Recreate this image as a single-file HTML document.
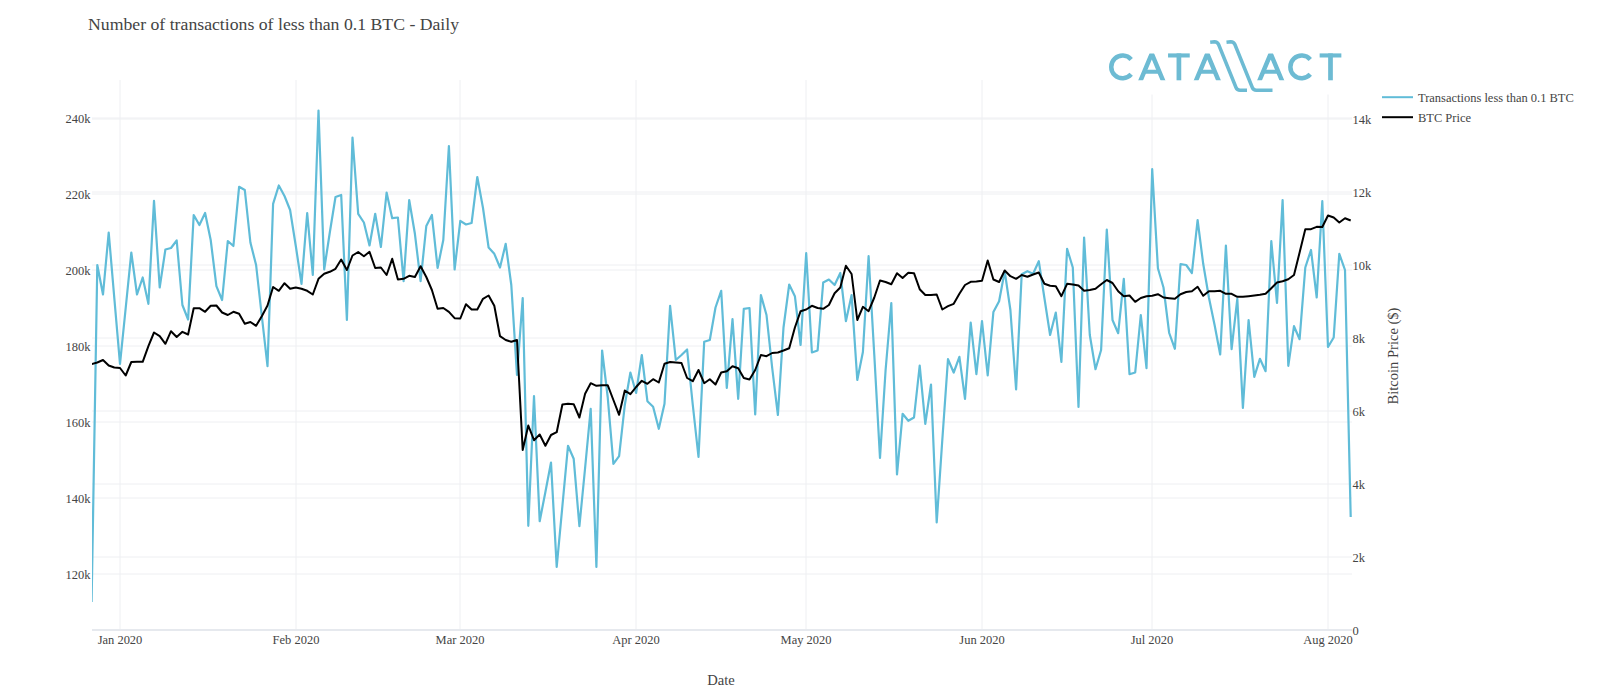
<!DOCTYPE html>
<html><head><meta charset="utf-8"><style>
html,body{margin:0;padding:0;background:#fff;}
body{width:1600px;height:692px;overflow:hidden;position:relative;font-family:"Liberation Serif",serif;}
svg{position:absolute;left:0;top:0;}
text{font-family:"Liberation Serif",serif;fill:#444;}
</style></head><body>
<svg width="1600" height="692" viewBox="0 0 1600 692">
<rect width="1600" height="692" fill="#fff"/>
<g stroke="#eeeff2" stroke-width="1" fill="none">
<line x1="120" x2="120" y1="80" y2="630"/><line x1="296" x2="296" y1="80" y2="630"/><line x1="460" x2="460" y1="80" y2="630"/><line x1="636" x2="636" y1="80" y2="630"/><line x1="806" x2="806" y1="80" y2="630"/><line x1="982" x2="982" y1="80" y2="630"/><line x1="1152" x2="1152" y1="80" y2="630"/><line x1="1328" x2="1328" y1="80" y2="630"/>
<line x1="92" x2="1352" y1="118" y2="118"/><line x1="92" x2="1352" y1="194" y2="194"/><line x1="92" x2="1352" y1="270" y2="270"/><line x1="92" x2="1352" y1="346" y2="346"/><line x1="92" x2="1352" y1="422" y2="422"/><line x1="92" x2="1352" y1="498" y2="498"/><line x1="92" x2="1352" y1="574" y2="574"/><line x1="92" x2="1352" y1="119" y2="119"/><line x1="92" x2="1352" y1="192" y2="192"/><line x1="92" x2="1352" y1="265" y2="265"/><line x1="92" x2="1352" y1="338" y2="338"/><line x1="92" x2="1352" y1="411" y2="411"/><line x1="92" x2="1352" y1="484" y2="484"/><line x1="92" x2="1352" y1="557" y2="557"/>
</g>
<line x1="92" x2="1352" y1="630" y2="630" stroke="#e6e9ee" stroke-width="2"/>
<clipPath id="pc"><rect x="92" y="80" width="1260" height="550"/></clipPath>
<g clip-path="url(#pc)">
<path d="M91.6,602.0 L97.3,265.0 L103.0,294.5 L108.7,232.5 L114.3,298.0 L120.0,363.8 L125.7,308.0 L131.3,252.5 L137.0,294.5 L142.7,277.5 L148.4,303.8 L154.0,200.8 L159.7,287.5 L165.4,249.5 L171.0,248.0 L176.7,240.5 L182.4,305.0 L188.1,319.5 L193.7,215.0 L199.4,225.0 L205.1,213.0 L210.7,240.0 L216.4,286.2 L222.1,300.0 L227.8,241.0 L233.4,246.0 L239.1,186.8 L244.8,190.0 L250.4,242.5 L256.1,265.0 L261.8,316.0 L267.5,366.2 L273.1,203.8 L278.8,185.5 L284.5,196.0 L290.1,210.0 L295.8,246.0 L301.5,283.8 L307.2,213.0 L312.8,275.0 L318.5,110.5 L324.2,269.5 L329.8,232.5 L335.5,197.0 L341.2,195.0 L346.9,320.0 L352.5,137.5 L358.2,213.8 L363.9,222.5 L369.5,245.5 L375.2,213.8 L380.9,247.0 L386.6,192.5 L392.2,218.2 L397.9,217.5 L403.6,281.2 L409.2,200.0 L414.9,233.8 L420.6,281.2 L426.3,226.0 L431.9,215.0 L437.6,268.0 L443.3,240.0 L448.9,146.0 L454.6,269.5 L460.3,220.8 L466.0,224.5 L471.6,223.0 L477.3,177.0 L483.0,208.0 L488.6,247.5 L494.3,253.8 L500.0,267.5 L505.7,243.8 L511.3,285.0 L517.0,375.0 L522.7,298.0 L528.3,525.8 L534.0,396.2 L539.7,521.2 L545.4,492.0 L551.0,462.5 L556.7,567.0 L562.4,506.0 L568.0,445.8 L573.7,458.8 L579.4,526.2 L585.1,468.0 L590.7,408.8 L596.4,567.0 L602.1,350.5 L607.7,397.0 L613.4,463.8 L619.1,456.2 L624.8,405.0 L630.4,372.5 L636.1,393.0 L641.8,355.0 L647.4,401.2 L653.1,406.8 L658.8,428.8 L664.5,403.8 L670.1,305.8 L675.8,360.0 L681.5,355.0 L687.1,349.5 L692.8,405.0 L698.5,457.0 L704.2,341.8 L709.8,340.0 L715.5,307.5 L721.2,290.8 L726.8,388.0 L732.5,319.2 L738.2,398.8 L743.8,308.8 L749.5,308.0 L755.2,414.5 L760.9,295.0 L766.5,315.0 L772.2,368.0 L777.9,415.0 L783.5,327.5 L789.2,284.5 L794.9,296.2 L800.6,345.0 L806.2,253.2 L811.9,352.5 L817.6,350.5 L823.2,282.5 L828.9,279.5 L834.6,285.0 L840.3,273.0 L845.9,321.2 L851.6,295.0 L857.3,380.0 L862.9,352.0 L868.6,256.2 L874.3,355.0 L880.0,458.0 L885.6,370.0 L891.3,303.0 L897.0,474.5 L902.6,413.8 L908.3,420.8 L914.0,417.5 L919.7,365.5 L925.3,423.8 L931.0,384.5 L936.7,522.5 L942.3,440.0 L948.0,359.2 L953.7,372.5 L959.4,356.8 L965.0,398.8 L970.7,322.5 L976.4,374.2 L982.0,321.2 L987.7,375.5 L993.4,312.0 L999.1,301.2 L1004.7,271.2 L1010.4,310.0 L1016.1,389.5 L1021.7,274.2 L1027.4,271.2 L1033.1,273.8 L1038.8,261.2 L1044.4,298.0 L1050.1,335.0 L1055.8,312.5 L1061.4,362.0 L1067.1,248.8 L1072.8,267.5 L1078.5,407.0 L1084.1,237.5 L1089.8,335.0 L1095.5,369.2 L1101.1,350.0 L1106.8,229.5 L1112.5,320.0 L1118.2,333.2 L1123.8,278.8 L1129.5,374.2 L1135.2,372.5 L1140.8,315.0 L1146.5,368.2 L1152.2,169.2 L1157.9,268.2 L1163.5,287.5 L1169.2,333.0 L1174.9,348.8 L1180.5,264.2 L1186.2,265.0 L1191.9,273.0 L1197.6,220.0 L1203.2,263.8 L1208.9,297.5 L1214.6,325.0 L1220.2,354.5 L1225.9,245.5 L1231.6,349.2 L1237.3,298.8 L1242.9,408.0 L1248.6,320.0 L1254.3,376.8 L1259.9,358.8 L1265.6,371.2 L1271.3,241.2 L1277.0,303.0 L1282.6,200.0 L1288.3,365.8 L1294.0,326.2 L1299.6,339.2 L1305.3,267.5 L1311.0,250.0 L1316.7,297.5 L1322.3,201.2 L1328.0,347.0 L1333.7,337.5 L1339.3,253.8 L1345.0,270.0 L1350.7,517.0" fill="none" stroke="#60bcd8" stroke-width="2.2" stroke-linejoin="round"/>
<path d="M91.6,364.2 L97.3,362.5 L103.0,360.0 L108.7,365.5 L114.3,367.5 L120.0,368.0 L125.7,375.5 L131.3,362.0 L137.0,361.8 L142.7,361.8 L148.4,346.2 L154.0,332.5 L159.7,336.2 L165.4,343.8 L171.0,331.2 L176.7,337.0 L182.4,331.8 L188.1,334.5 L193.7,308.2 L199.4,308.2 L205.1,311.8 L210.7,305.8 L216.4,305.5 L222.1,312.5 L227.8,315.0 L233.4,311.8 L239.1,313.8 L244.8,323.8 L250.4,322.0 L256.1,325.8 L261.8,316.2 L267.5,305.5 L273.1,287.0 L278.8,290.8 L284.5,283.2 L290.1,288.8 L295.8,287.5 L301.5,288.8 L307.2,290.8 L312.8,294.5 L318.5,278.8 L324.2,273.8 L329.8,271.8 L335.5,268.8 L341.2,259.5 L346.9,270.0 L352.5,255.5 L358.2,252.0 L363.9,256.2 L369.5,251.8 L375.2,268.0 L380.9,267.5 L386.6,275.0 L392.2,258.8 L397.9,279.5 L403.6,278.8 L409.2,275.8 L414.9,277.0 L420.6,266.2 L426.3,277.0 L431.9,290.0 L437.6,308.8 L443.3,308.0 L448.9,311.8 L454.6,318.2 L460.3,318.5 L466.0,304.2 L471.6,309.5 L477.3,309.5 L483.0,298.8 L488.6,295.5 L494.3,305.8 L500.0,336.2 L505.7,340.0 L511.3,341.8 L517.0,340.0 L522.7,450.0 L528.3,425.5 L534.0,440.2 L539.7,434.5 L545.4,445.8 L551.0,435.0 L556.7,432.2 L562.4,404.5 L568.0,403.8 L573.7,404.2 L579.4,417.5 L585.1,393.8 L590.7,383.2 L596.4,385.8 L602.1,385.2 L607.7,385.2 L613.4,400.0 L619.1,414.8 L624.8,390.5 L630.4,394.2 L636.1,387.0 L641.8,380.8 L647.4,383.8 L653.1,379.2 L658.8,382.5 L664.5,363.8 L670.1,362.0 L675.8,362.5 L681.5,363.0 L687.1,378.0 L692.8,381.2 L698.5,370.0 L704.2,383.2 L709.8,379.2 L715.5,384.5 L721.2,372.5 L726.8,371.2 L732.5,366.2 L738.2,368.2 L743.8,378.0 L749.5,379.5 L755.2,370.0 L760.9,355.0 L766.5,356.2 L772.2,353.0 L777.9,352.5 L783.5,350.5 L789.2,348.2 L794.9,327.5 L800.6,311.2 L806.2,309.5 L811.9,305.8 L817.6,308.0 L823.2,308.8 L828.9,305.0 L834.6,293.2 L840.3,287.5 L845.9,265.8 L851.6,274.0 L857.3,320.0 L862.9,306.8 L868.6,311.2 L874.3,297.5 L880.0,280.5 L885.6,282.0 L891.3,284.2 L897.0,273.2 L902.6,278.0 L908.3,272.8 L914.0,273.2 L919.7,289.2 L925.3,295.0 L931.0,295.0 L936.7,294.5 L942.3,309.5 L948.0,306.2 L953.7,303.8 L959.4,293.8 L965.0,285.0 L970.7,281.8 L976.4,281.5 L982.0,280.8 L987.7,260.5 L993.4,279.5 L999.1,282.0 L1004.7,270.5 L1010.4,276.2 L1016.1,278.8 L1021.7,275.0 L1027.4,276.8 L1033.1,274.5 L1038.8,272.5 L1044.4,283.8 L1050.1,285.8 L1055.8,286.2 L1061.4,296.2 L1067.1,283.8 L1072.8,284.5 L1078.5,285.5 L1084.1,290.8 L1089.8,290.0 L1095.5,288.8 L1101.1,284.2 L1106.8,280.0 L1112.5,283.0 L1118.2,291.2 L1123.8,296.2 L1129.5,295.5 L1135.2,301.8 L1140.8,298.0 L1146.5,296.2 L1152.2,295.8 L1157.9,294.2 L1163.5,297.5 L1169.2,298.2 L1174.9,298.8 L1180.5,294.2 L1186.2,292.0 L1191.9,291.2 L1197.6,286.8 L1203.2,295.8 L1208.9,291.2 L1214.6,291.2 L1220.2,290.8 L1225.9,293.8 L1231.6,293.8 L1237.3,296.8 L1242.9,296.8 L1248.6,296.2 L1254.3,295.5 L1259.9,294.8 L1265.6,293.8 L1271.3,288.2 L1277.0,282.5 L1282.6,281.2 L1288.3,279.2 L1294.0,275.0 L1299.6,252.5 L1305.3,229.2 L1311.0,229.2 L1316.7,226.8 L1322.3,227.0 L1328.0,215.5 L1333.7,217.5 L1339.3,222.5 L1345.0,218.2 L1350.7,220.5" fill="none" stroke="#000" stroke-width="2" stroke-linejoin="round"/>
</g>
<text transform="translate(88,30) scale(1.043,1)" font-size="17" fill="#2a3f5f">Number of transactions of less than 0.1 BTC - Daily</text>
<text transform="translate(90.5,122.5) scale(1.04,1)" font-size="12" text-anchor="end" fill="#444">240k</text><text transform="translate(90.5,198.5) scale(1.04,1)" font-size="12" text-anchor="end" fill="#444">220k</text><text transform="translate(90.5,274.5) scale(1.04,1)" font-size="12" text-anchor="end" fill="#444">200k</text><text transform="translate(90.5,350.5) scale(1.04,1)" font-size="12" text-anchor="end" fill="#444">180k</text><text transform="translate(90.5,426.5) scale(1.04,1)" font-size="12" text-anchor="end" fill="#444">160k</text><text transform="translate(90.5,502.5) scale(1.04,1)" font-size="12" text-anchor="end" fill="#444">140k</text><text transform="translate(90.5,578.5) scale(1.04,1)" font-size="12" text-anchor="end" fill="#444">120k</text><text transform="translate(1352.5,123.5) scale(1.04,1)" font-size="12" text-anchor="start" fill="#444">14k</text><text transform="translate(1352.5,196.5) scale(1.04,1)" font-size="12" text-anchor="start" fill="#444">12k</text><text transform="translate(1352.5,269.5) scale(1.04,1)" font-size="12" text-anchor="start" fill="#444">10k</text><text transform="translate(1352.5,342.5) scale(1.04,1)" font-size="12" text-anchor="start" fill="#444">8k</text><text transform="translate(1352.5,415.5) scale(1.04,1)" font-size="12" text-anchor="start" fill="#444">6k</text><text transform="translate(1352.5,488.5) scale(1.04,1)" font-size="12" text-anchor="start" fill="#444">4k</text><text transform="translate(1352.5,561.5) scale(1.04,1)" font-size="12" text-anchor="start" fill="#444">2k</text><text transform="translate(1352.5,634.5) scale(1.04,1)" font-size="12" text-anchor="start" fill="#444">0</text><text transform="translate(120,644) scale(1.04,1)" font-size="12" text-anchor="middle" fill="#444">Jan 2020</text><text transform="translate(296,644) scale(1.04,1)" font-size="12" text-anchor="middle" fill="#444">Feb 2020</text><text transform="translate(460,644) scale(1.04,1)" font-size="12" text-anchor="middle" fill="#444">Mar 2020</text><text transform="translate(636,644) scale(1.04,1)" font-size="12" text-anchor="middle" fill="#444">Apr 2020</text><text transform="translate(806,644) scale(1.04,1)" font-size="12" text-anchor="middle" fill="#444">May 2020</text><text transform="translate(982,644) scale(1.04,1)" font-size="12" text-anchor="middle" fill="#444">Jun 2020</text><text transform="translate(1152,644) scale(1.04,1)" font-size="12" text-anchor="middle" fill="#444">Jul 2020</text><text transform="translate(1328,644) scale(1.04,1)" font-size="12" text-anchor="middle" fill="#444">Aug 2020</text>
<text transform="translate(721,685) scale(1.04,1)" font-size="14" text-anchor="middle" fill="#444">Date</text>
<text transform="translate(1398,356) rotate(-90) scale(1.04,1)" font-size="14" text-anchor="middle" fill="#444">Bitcoin Price ($)</text>
<line x1="1382" x2="1413" y1="97.2" y2="97.2" stroke="#60bcd8" stroke-width="2"/>
<line x1="1382" x2="1413" y1="117.2" y2="117.2" stroke="#000" stroke-width="2"/>
<text transform="translate(1418,102) scale(1.04,1)" font-size="12" fill="#444">Transactions less than 0.1 BTC</text>
<text transform="translate(1418,122) scale(1.04,1)" font-size="12" fill="#444">BTC Price</text>
<rect x="1100" y="30" width="250" height="64.5" fill="#fff"/><clipPath id="lc"><rect x="1100" y="53.40" width="260" height="26.90"/></clipPath>
<path d="M1131.17,59.45 A11.35,11.35 0 1 0 1131.17,74.35" fill="none" stroke="#6dbbd3" stroke-width="4.50"/>
<g clip-path="url(#lc)"><path d="M1138.99,84.30 L1151.80,53.70 L1164.61,84.30" fill="none" stroke="#6dbbd3" stroke-width="4.50" stroke-linejoin="miter" stroke-miterlimit="10"/><path d="M1144.17,71.80 L1159.43,71.80" fill="none" stroke="#6dbbd3" stroke-width="3.90"/></g>
<rect x="1168.05" y="53.40" width="21.70" height="4.10" fill="#6dbbd3"/><rect x="1176.55" y="53.40" width="4.70" height="26.90" fill="#6dbbd3"/>
<g clip-path="url(#lc)"><path d="M1194.49,84.30 L1207.30,53.70 L1220.11,84.30" fill="none" stroke="#6dbbd3" stroke-width="4.50" stroke-linejoin="miter" stroke-miterlimit="10"/><path d="M1199.67,71.80 L1214.93,71.80" fill="none" stroke="#6dbbd3" stroke-width="3.90"/></g>
<g clip-path="url(#lc)"><path d="M1257.89,84.30 L1270.70,53.70 L1283.51,84.30" fill="none" stroke="#6dbbd3" stroke-width="4.50" stroke-linejoin="miter" stroke-miterlimit="10"/><path d="M1263.07,71.80 L1278.33,71.80" fill="none" stroke="#6dbbd3" stroke-width="3.90"/></g>
<path d="M1310.27,59.45 A11.35,11.35 0 1 0 1310.27,74.35" fill="none" stroke="#6dbbd3" stroke-width="4.50"/>
<rect x="1319.65" y="53.40" width="21.70" height="4.10" fill="#6dbbd3"/><rect x="1328.15" y="53.40" width="4.70" height="26.90" fill="#6dbbd3"/>
<path d="M1210.20,42.20 L1214.50,41.70 Q1217.45,41.70 1218.60,44.50 L1236.00,87.50 Q1237.10,90.20 1240.00,90.20 L1247.00,90.20 M1226.50,42.20 L1230.80,41.70 Q1233.75,41.70 1234.90,44.50 L1252.30,87.50 Q1253.40,90.20 1256.30,90.20 L1272.50,90.20" fill="none" stroke="#6dbbd3" stroke-width="3.5" stroke-linejoin="round" stroke-linecap="butt"/>
</svg>
</body></html>
